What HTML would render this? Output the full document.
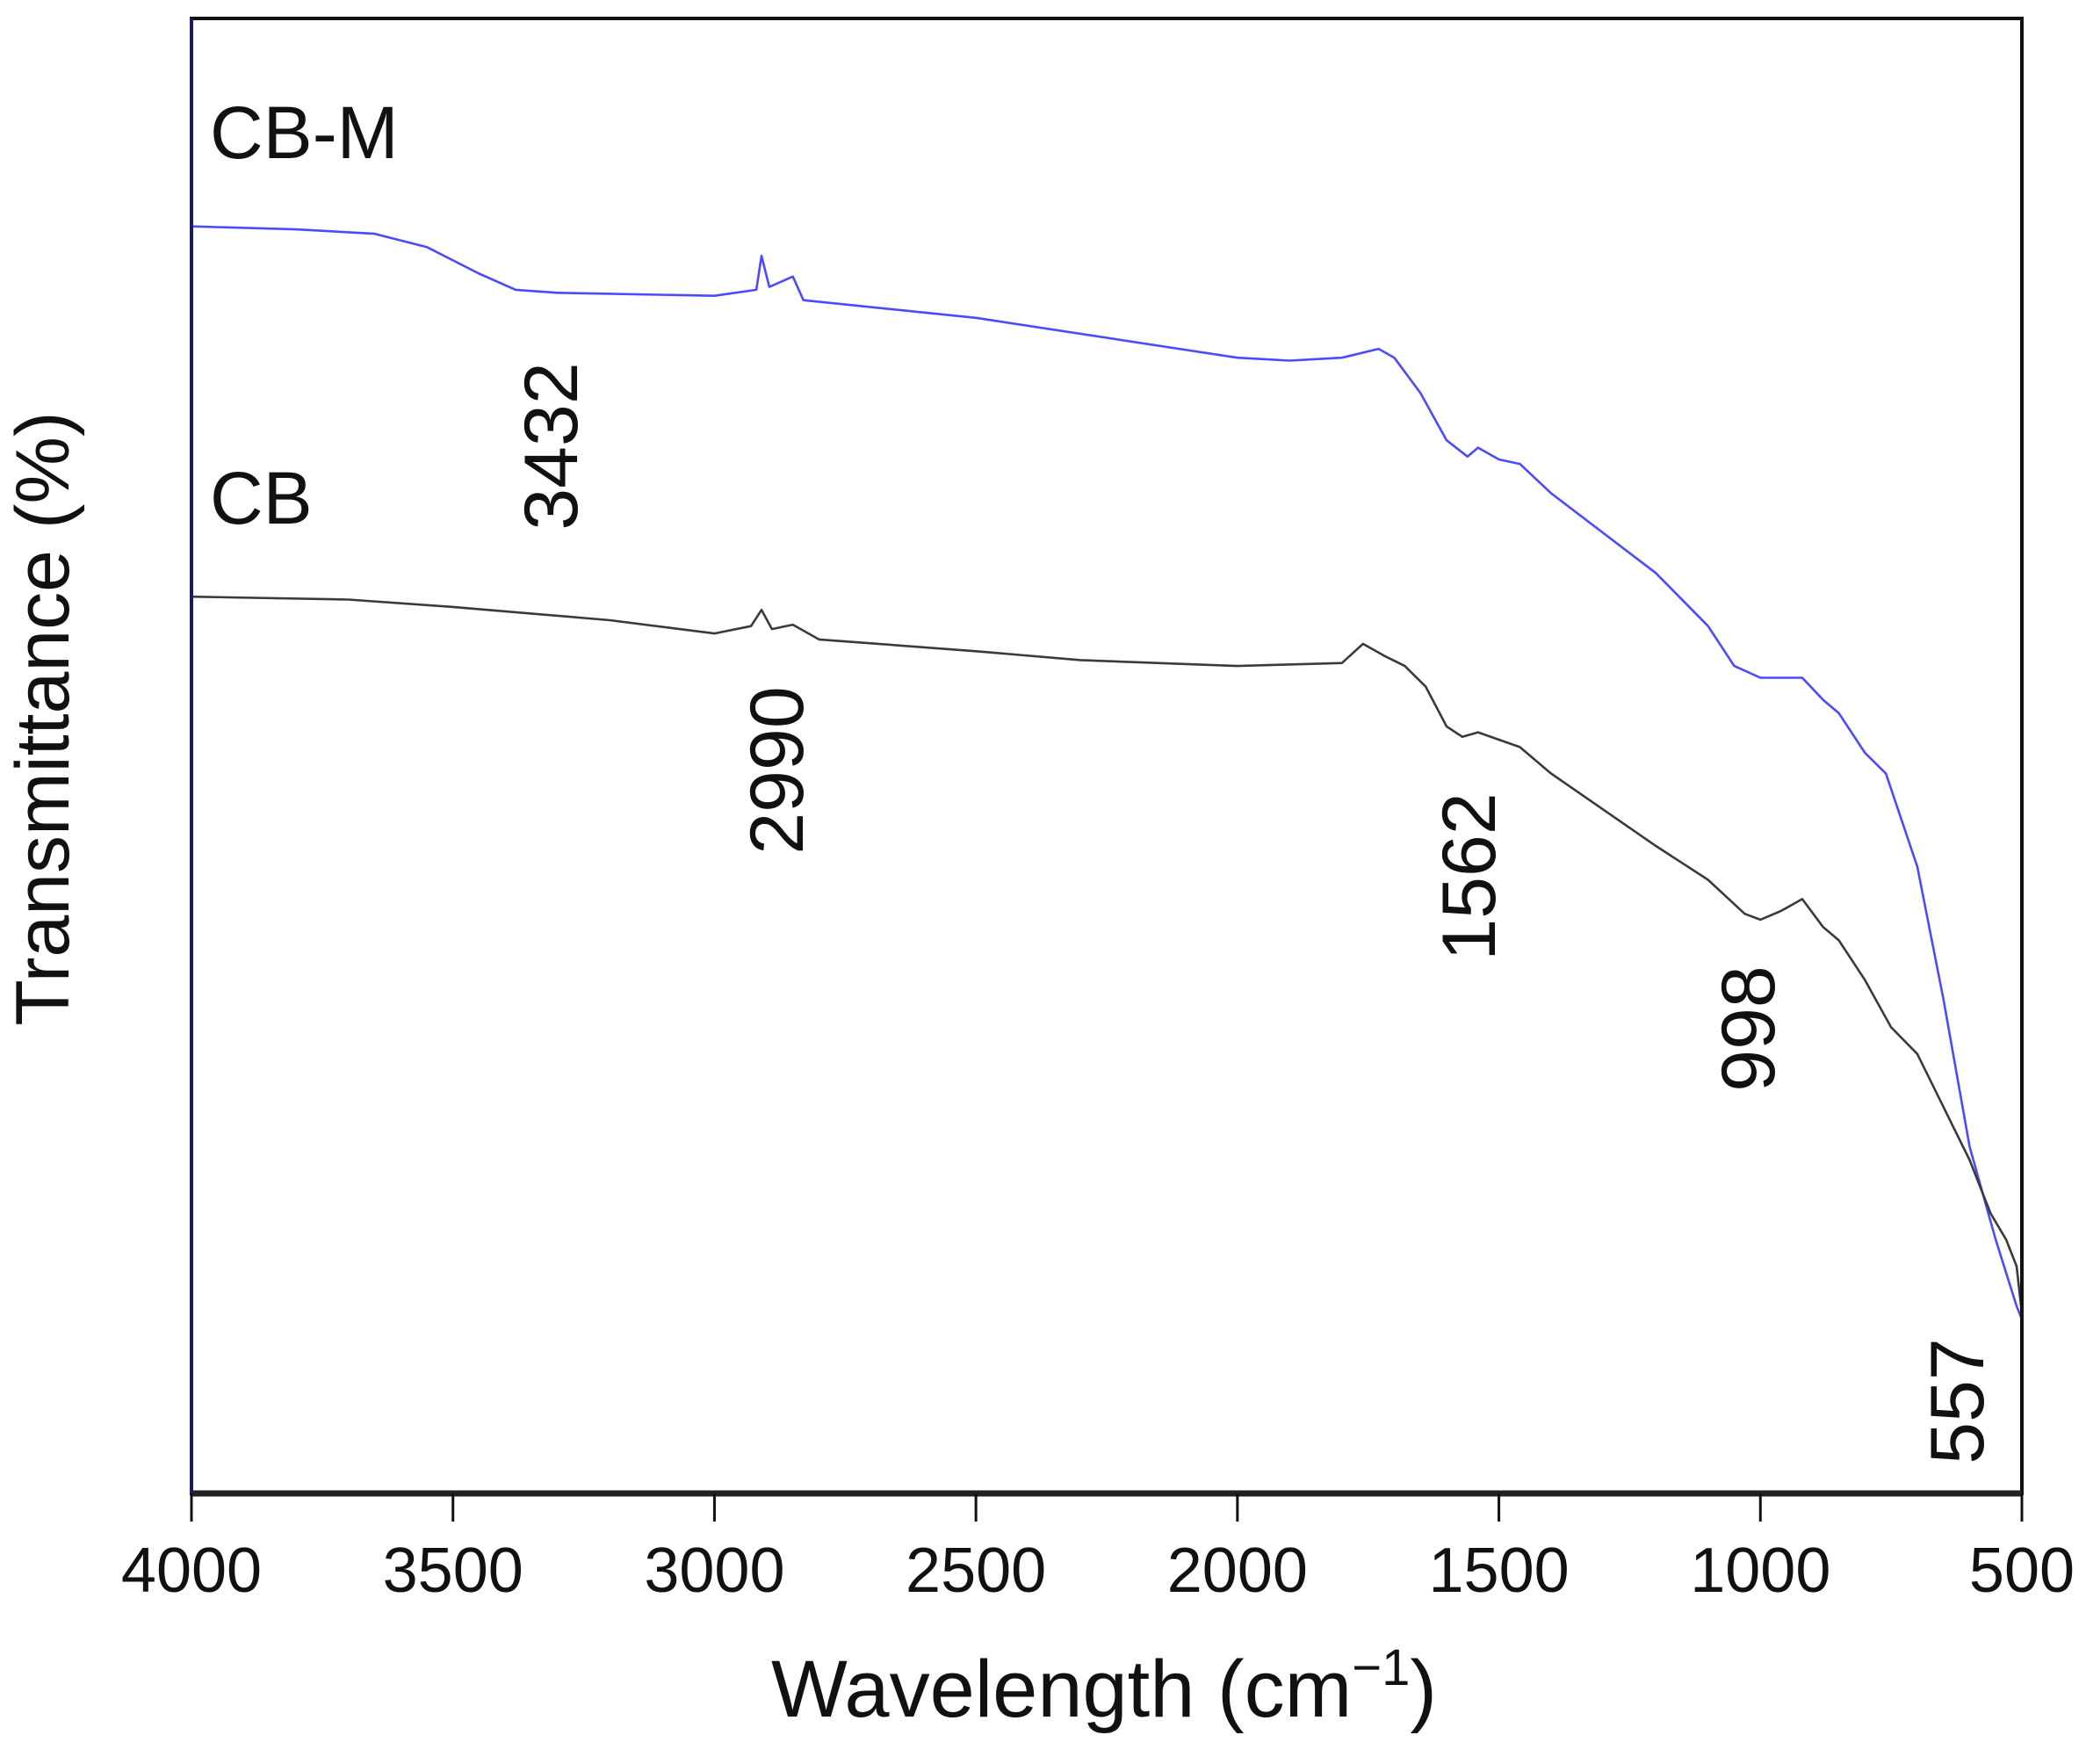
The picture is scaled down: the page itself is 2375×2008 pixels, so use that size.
<!DOCTYPE html>
<html><head><meta charset="utf-8"><style>
html,body{margin:0;padding:0;background:#fff;}
svg{display:block;font-family:"Liberation Sans",Arial,sans-serif;}
</style></head><body>
<svg id="chart" width="2375" height="2008" viewBox="0 0 2375 2008" xmlns="http://www.w3.org/2000/svg">
<g id="plot"></g>
</svg>
<script>
const xTicks = [4000, 3500, 3000, 2500, 2000, 1500, 1000, 500];
const cbmX = [4000,3800,3650,3550,3450,3380,3300,3000,2920,2910,2895,2850,2830,2500,2000,1900,1800,1730,1700,1650,1600,1560,1540,1500,1460,1400,1200,1100,1050,1000,920,880,850,800,760,700,650,600,550,510,500];
const cbmY = [85.9,85.7,85.4,84.5,82.7,81.6,81.4,81.2,81.6,83.9,81.8,82.5,80.9,79.7,77.0,76.8,77.0,77.6,77.0,74.6,71.4,70.3,70.9,70.1,69.8,67.8,62.4,58.8,56.1,55.3,55.3,53.8,52.9,50.2,48.8,42.5,33.5,23.5,17.2,12.7,11.8];
const cbX = [4000,3700,3500,3200,3000,2930,2910,2890,2850,2800,2500,2300,2000,1800,1760,1720,1680,1640,1600,1570,1540,1500,1460,1400,1200,1100,1030,1000,960,920,880,850,800,750,700,650,600,560,530,510,500];
const cbY = [60.8,60.6,60.1,59.2,58.3,58.8,59.9,58.6,58.9,57.9,57.1,56.5,56.1,56.3,57.6,56.8,56.1,54.7,52.0,51.3,51.6,51.1,50.6,48.8,43.9,41.6,39.3,38.9,39.5,40.3,38.4,37.5,34.8,31.6,29.8,26.2,22.6,19.0,17.2,15.4,12.2];
const peakLabels = ["3432","2990","1562","998","557"];
const peakPos = [3432,2990,1562,998,557];

const L=218,R=2302,T=21,B=1700;
const NS="http://www.w3.org/2000/svg";
const g=document.getElementById('plot');
function sx(v){return L+(4000-v)/3500*(R-L);}
function sy(v){return B-v/100*(B-T);}
function el(t,a,txt){const e=document.createElementNS(NS,t);for(const k in a)e.setAttribute(k,a[k]);if(txt!==undefined)e.textContent=txt;g.appendChild(e);return e;}

function line(xs,ys,color,name){
  let d='';for(let i=0;i<xs.length;i++)d+=(i?'L':'M')+sx(xs[i]).toFixed(1)+' '+sy(ys[i]).toFixed(1);
  const p=el('path',{d:d,fill:'none',stroke:color,'stroke-width':2.6,'stroke-linejoin':'round'});
  
  
}
line(cbmX,cbmY,'#4a4aff','cb-m-series');
line(cbX,cbY,'#3a3a3a','cb-series');

const frame=el('rect',{x:L,y:T,width:R-L,height:B-T,fill:'none',stroke:'#111','stroke-width':4});


const xaxis=el('line',{x1:L,y1:B,x2:R,y2:B,stroke:'#222','stroke-width':7});


const yaxis=el('line',{x1:L,y1:T,x2:L,y2:B,stroke:'#1a1a66','stroke-width':4});



xTicks.forEach(v=>{
  const t=el('line',{x1:sx(v),y1:B,x2:sx(v),y2:B+32,stroke:'#111','stroke-width':3});
  
  
  const lb=el('text',{x:sx(v),y:1812,'font-size':72,'text-anchor':'middle',fill:'#111'},String(v));
  
  
});

const xt=el('text',{x:1257,y:1954,'font-size':92,'text-anchor':'middle',fill:'#111'});


xt.innerHTML='Wavelength (cm<tspan dy="-36" font-size="58">−1</tspan><tspan dy="36">)</tspan>';

const yt=el('text',{x:0,y:0,'font-size':86,'text-anchor':'middle',fill:'#111',transform:'translate(78,818) rotate(-90)'},'Transmittance (%)');



const l1=el('text',{x:239,y:180,'font-size':84,fill:'#111'},'CB-M');


const l2=el('text',{x:239,y:596,'font-size':84,fill:'#111'},'CB');



const peakYc=[508,877,998,1171,1595];
const peakXc=[626,883,1671,1989,2227];
peakLabels.forEach((s,i)=>{
  const t=el('text',{x:0,y:0,'font-size':86,'text-anchor':'middle',fill:'#111',transform:'translate('+(peakXc[i]+31)+','+peakYc[i]+') rotate(-90)'},s);
  
  
});
</script>
</body></html>
